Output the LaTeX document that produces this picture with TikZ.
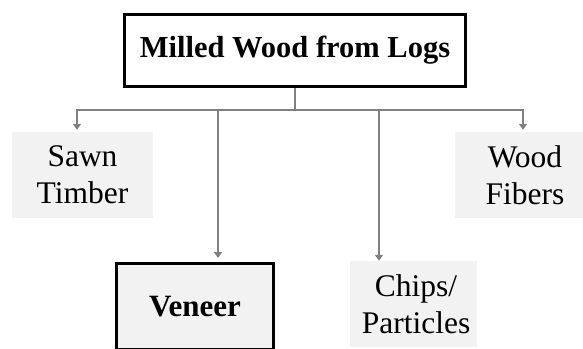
\documentclass[tikz,border=0pt]{standalone}
\usepackage{fontspec}
\setmainfont{Liberation Serif}
\usetikzlibrary{arrows.meta}
\definecolor{boxgray}{HTML}{F2F2F2}
\definecolor{linegray}{HTML}{808080}
\tikzset{
  mainbox/.style={draw=black, line width=2.7pt, fill=white, inner sep=0pt,
    font=\fontsize{30.5}{36}\selectfont\bfseries},
  leaf/.style={fill=boxgray, inner sep=0pt, align=center,
    font=\fontsize{31.5}{37}\selectfont},
  keyleaf/.style={leaf, draw=black, line width=3pt,
    font=\fontsize{31}{37}\selectfont\bfseries},
  conn/.style={draw=linegray, line width=2pt},
  arr/.style={conn, -{Triangle[width=8pt,length=6pt]}},
}
\begin{document}
\begin{tikzpicture}[x=1pt,y=-1pt]
\useasboundingbox (0,0) rectangle (583,348);
\clip (0,0) rectangle (583,348);
\node[mainbox, minimum width=341pt, minimum height=72pt] (top) at (295,50.5) {Milled Wood from Logs};
\node[leaf, minimum width=141pt, minimum height=86pt] (sawn) at (82.5,175) {Sawn\\Timber};
\node[leaf, minimum width=140pt, minimum height=86pt] (fiber) at (525,175) {Wood\\Fibers};
\node[keyleaf, minimum width=157pt, minimum height=86pt] (veneer) at (195,306.5) {Veneer};
\node[leaf, minimum width=127pt, minimum height=86pt] (chips) at (413.5,304) {\hspace*{5pt}Chips/\\\hspace*{5pt}Particles};
\coordinate (junc) at (295,109.5);
\coordinate (b1) at (77,109.5);
\coordinate (b2) at (218,109.5);
\coordinate (b3) at (379,109.5);
\coordinate (b4) at (523,109.5);
\draw[conn] (top.south) -- (junc);
\draw[conn, line cap=rect] (b1) -- (b4);
\draw[arr, shorten >=2pt] (b1) -- (b1 |- sawn.north);
\draw[arr, shorten >=4pt] (b2) -- (b2 |- veneer.north);
\draw[arr] (b3) -- (b3 |- chips.north);
\draw[arr, shorten >=2pt] (b4) -- (b4 |- fiber.north);
\end{tikzpicture}
\end{document}
